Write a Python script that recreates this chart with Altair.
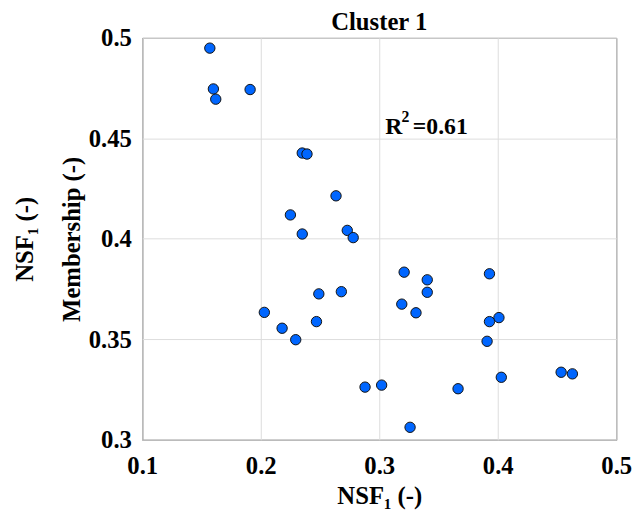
import altair as alt
import pandas as pd

# NSF_1 (x) and Membership (y) values
nsf1 = [0.157, 0.160, 0.162, 0.191, 0.235, 0.239, 0.2635, 0.225, 0.235, 0.273, 0.278,
        0.321, 0.3405, 0.3405, 0.249, 0.268, 0.319, 0.331, 0.203, 0.218, 0.247, 0.2295,
        0.288, 0.302, 0.3665, 0.326, 0.393, 0.401, 0.393, 0.391, 0.403, 0.4535, 0.463]
membership = [0.4949, 0.4746, 0.4695, 0.4743, 0.4427, 0.4422, 0.4214, 0.4119, 0.4024, 0.4042, 0.4006,
              0.3834, 0.3796, 0.3734, 0.3726, 0.3737, 0.3675, 0.3632, 0.3634, 0.3555, 0.3588, 0.3498,
              0.3262, 0.3272, 0.3254, 0.3062, 0.3826, 0.3608, 0.3588, 0.349, 0.3311, 0.3336, 0.3328]

x_ticks = [0.1, 0.2, 0.3, 0.4, 0.5]
y_ticks = [0.3, 0.35, 0.4, 0.45, 0.5]

title_text = ["Cluster 1"]
x_title = "NSF\u2081 (-)"
y_title = ["NSF\u2081 (-)", "Membership (-)"]

ann_x = [0.305]
ann_y = [0.452]
ann_main = ["R"]
ann_sup = ["2"]
ann_rest = ["=0.61"]

FONT = "Liberation Serif"
W, H = 480, 407

df = pd.DataFrame({"nsf1": nsf1, "membership": membership})
ann = pd.DataFrame({"x": ann_x, "y": ann_y, "m": ann_main, "s": ann_sup, "r": ann_rest})
tdf = pd.DataFrame({"t": title_text})

xscale = alt.Scale(domain=[0.1, 0.5], nice=False, zero=False)
yscale = alt.Scale(domain=[0.3, 0.5], nice=False, zero=False)

points = alt.Chart(df).mark_point(
    shape="circle", filled=True, size=110, fill="#0066ff", stroke="#111111",
    strokeWidth=1, opacity=1
).encode(
    x=alt.X("nsf1:Q", scale=xscale,
            axis=alt.Axis(values=x_ticks, format="~g", title=x_title,
                          titleBaseline="alphabetic", titleY=65, titleX=W / 2,
                          labelPadding=14, labelFlush=False, ticks=False, domain=False,
                          gridColor="#dcdcdc", gridWidth=1)),
    y=alt.Y("membership:Q", scale=yscale,
            axis=alt.Axis(values=y_ticks, format="~g", title=y_title,
                          titleBaseline="alphabetic", titleX=-111, titleY=H / 2,
                          titleAngle=270, titleLineHeight=47, labelFlush=False,
                          labelPadding=11, ticks=False, domain=False,
                          gridColor="#dcdcdc", gridWidth=1)),
)

base = alt.Chart(ann).encode(x=alt.X("x:Q", scale=xscale), y=alt.Y("y:Q", scale=yscale))
t_main = base.mark_text(font=FONT, fontWeight="bold", fontSize=24, align="left",
                        baseline="alphabetic", color="black").encode(text="m:N")
t_sup = base.mark_text(font=FONT, fontWeight="bold", fontSize=16, align="left",
                       baseline="alphabetic", color="black", dx=16.5, dy=-12).encode(text="s:N")
t_rest = base.mark_text(font=FONT, fontWeight="bold", fontSize=24, align="left",
                        baseline="alphabetic", color="black", dx=28).encode(text="r:N")

title_mark = alt.Chart(tdf).mark_text(
    font=FONT, fontWeight="bold", fontSize=25, align="center",
    baseline="alphabetic", color="black"
).encode(text="t:N", x=alt.value(W / 2), y=alt.value(-8))

chart = alt.layer(points, t_main, t_sup, t_rest, title_mark).properties(
    width=W, height=H,
    autosize=alt.AutoSizeParams(type="none"),
    padding={"left": 136, "top": 27, "right": 19, "bottom": 79},
).configure_view(
    stroke="#262626", strokeWidth=1
).configure_axis(
    labelFont=FONT, labelFontWeight="bold", labelFontSize=25, labelColor="black",
    titleFont=FONT, titleFontWeight="bold", titleFontSize=25, titleColor="black",
)

chart.save("out.html", embed_options={"renderer": "svg", "actions": False})
